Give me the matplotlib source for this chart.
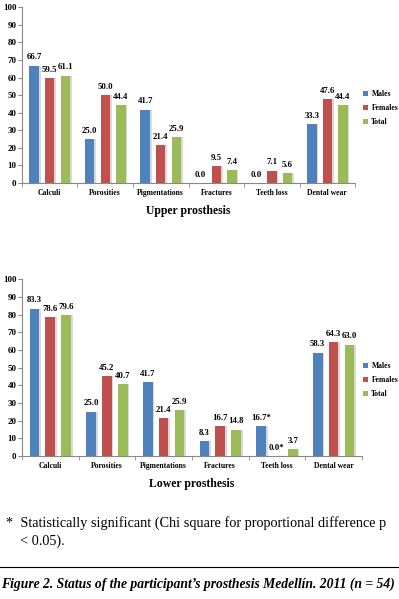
import matplotlib
matplotlib.use("Agg")
import matplotlib.pyplot as plt
import numpy as np

categories = ["Calculi", "Porosities", "Pigmentations", "Fractures", "Teeth loss", "Dental wear"]
series_names = ["Males", "Females", "Total"]
upper_males = [66.7, 25.0, 41.7, 0.0, 0.0, 33.3]
upper_females = [59.5, 50.0, 21.4, 9.5, 7.1, 47.6]
upper_total = [61.1, 44.4, 25.9, 7.4, 5.6, 44.4]
lower_males = [83.3, 25.0, 41.7, 8.3, 16.7, 58.3]
lower_females = [78.6, 45.2, 21.4, 16.7, 0.0, 64.3]
lower_total = [79.6, 40.7, 25.9, 14.8, 3.7, 63.0]
lower_marks = [["", "", "", "", "*", ""], ["", "", "", "", "*", ""], ["", "", "", "", "", ""]]
yticks = [0, 10, 20, 30, 40, 50, 60, 70, 80, 90, 100]

colors = ["#4F81BD", "#C0504D", "#9BBB59"]
plt.rcParams['font.family'] = ['Liberation Serif', 'DejaVu Serif']

fig = plt.figure(figsize=(3.99, 5.99), dpi=100)

def draw(ax, data, title, marks=None):
    x = np.arange(len(categories))
    offs = [-0.28, 0.0, 0.28]
    w = 0.17
    handles = []
    for i, (vals, c, name) in enumerate(zip(data, colors, series_names)):
        ax.bar(x + offs[i] + 0.03, vals, w, color="#d9d9d9", zorder=1)
        h = ax.bar(x + offs[i], vals, w, color=c, label=name, zorder=2)
        handles.append(h)
        for j, v in enumerate(vals):
            m = marks[i][j] if marks else ""
            ax.text(x[j] + offs[i], v + 2.5, f"{v:.1f}{m}", ha="center", va="bottom",
                    fontsize=6.3, fontweight="bold", zorder=3)
    ax.set_xlim(-0.5, len(categories) - 0.5)
    ax.set_ylim(0, 100)
    ax.set_yticks(yticks)
    ax.set_yticklabels([str(t) for t in yticks], fontsize=6.5, fontweight="bold")
    ax.set_xticks(x)
    ax.set_xticklabels(categories, fontsize=5.5, fontweight="bold")
    ax.tick_params(axis="x", length=0, pad=4)
    ax.set_xticks(np.arange(-0.5, len(categories)), minor=True)
    ax.tick_params(axis="x", which="minor", length=3, color="#888888")
    ax.tick_params(axis="y", length=3, color="#888888", pad=1)
    for s in ["top", "right"]:
        ax.spines[s].set_visible(False)
    for s in ["left", "bottom"]:
        ax.spines[s].set_color("#888888")
        ax.spines[s].set_linewidth(0.8)
    ax.set_xlabel(title, fontsize=8.5, fontweight="bold", labelpad=6)
    return handles

legend_kw = dict(loc="center left", frameon=False,
                 prop={"size": 5.5, "weight": "bold"}, handlelength=0.6, handleheight=0.6,
                 labelspacing=0.8, handletextpad=0.5, borderaxespad=0, borderpad=0)

ax1 = fig.add_axes([0.055, 0.6945, 0.835, 0.2935])
h = draw(ax1, [upper_males, upper_females, upper_total], "Upper prosthesis")
ax1.legend(handles=h, bbox_to_anchor=(363 / 399, 1 - 108 / 599), bbox_transform=fig.transFigure, **legend_kw)

ax2 = fig.add_axes([0.055, 0.2387, 0.852, 0.2953])
h = draw(ax2, [lower_males, lower_females, lower_total], "Lower prosthesis", lower_marks)
ax2.legend(handles=h, bbox_to_anchor=(363 / 399, 1 - 380 / 599), bbox_transform=fig.transFigure, **legend_kw)

fig.text(0.015, 1 - 523 / 599, "*  Statistically significant (Chi square for proportional difference p",
         fontsize=10.3, va="center", ha="left")
fig.text(0.05, 1 - 541 / 599, "< 0.05).", fontsize=10.3, va="center", ha="left")
fig.add_artist(plt.Line2D([0, 1], [1 - 567 / 599, 1 - 567 / 599], color="black", lw=0.8,
                          transform=fig.transFigure))
fig.text(0.003, 1 - 584 / 599, "Figure 2. Status of the participant\u2019s prosthesis Medell\u00edn. 2011 (n = 54)",
         fontsize=9.8, fontweight="bold", fontstyle="italic", va="center", ha="left")

fig.savefig("out.png", dpi=100)
